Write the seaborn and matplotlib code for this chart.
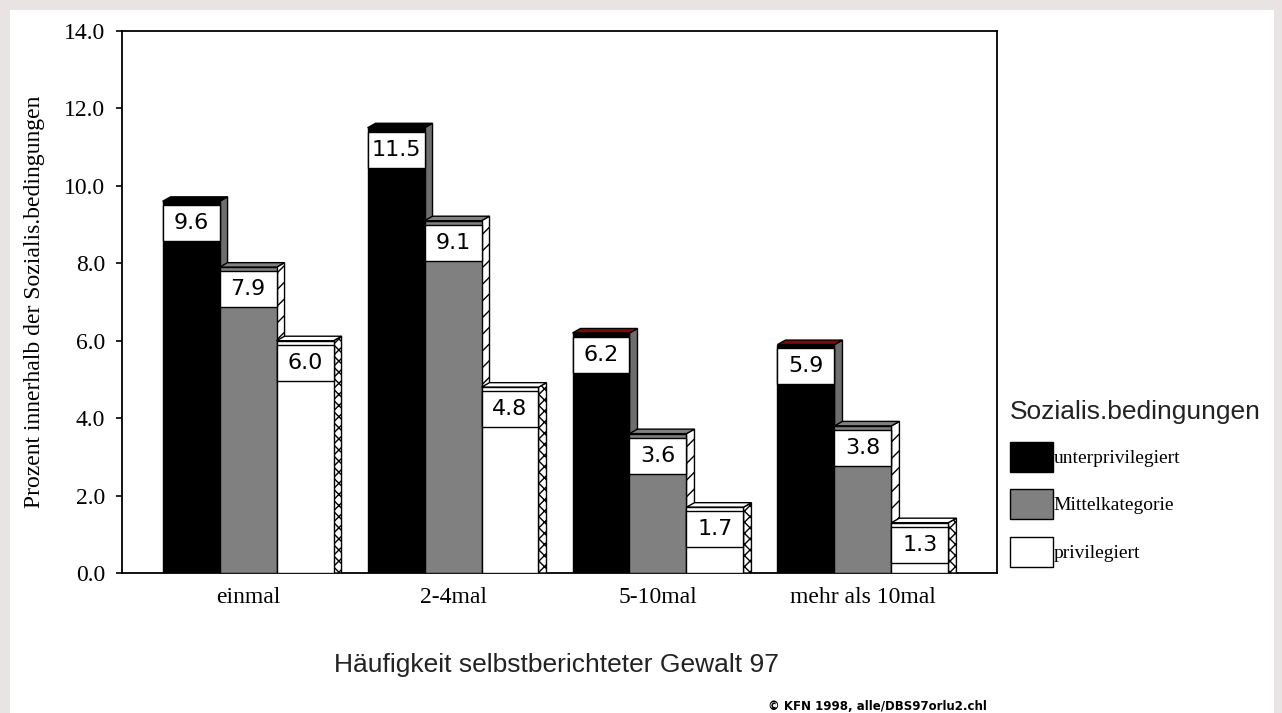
import numpy as np
import pandas as pd
import seaborn as sns
import matplotlib.pyplot as plt
from matplotlib.patches import Polygon, Rectangle

# data
kategorien = ['einmal', '2-4mal', '5-10mal', 'mehr als 10mal']
gruppen = ['unterprivilegiert', 'Mittelkategorie', 'privilegiert']
unterprivilegiert = [9.6, 11.5, 6.2, 5.9]
mittelkategorie = [7.9, 9.1, 3.6, 3.8]
privilegiert = [6.0, 4.8, 1.7, 1.3]
y_ticks = [0, 2, 4, 6, 8, 10, 12, 14]

df = pd.DataFrame({
    'Haeufigkeit': kategorien * 3,
    'Gruppe': [g for g in gruppen for _ in kategorien],
    'Prozent': unterprivilegiert + mittelkategorie + privilegiert,
})

W, H = 1282, 713
fig = plt.figure(figsize=(W / 100, H / 100), dpi=100)
fig.patch.set_facecolor('#e8e4e4')
fig.patches.append(Rectangle((10 / W, 0), 1264 / W, 703 / H, transform=fig.transFigure,
                             facecolor='white', edgecolor='none', zorder=-1))

ax = fig.add_axes([122 / W, (H - 573) / H, 875 / W, 542 / H])
sns.barplot(data=df, x='Haeufigkeit', y='Prozent', hue='Gruppe', hue_order=gruppen,
            palette=['black', '#808080', 'white'], edgecolor='black', linewidth=1,
            width=0.834, errorbar=None, ax=ax)
if ax.get_legend() is not None:
    ax.get_legend().remove()

ax.set_xlim(-0.615, 3.654)
ax.set_ylim(0, 14)

# fake 3D depth (about 8 px right, 4.5 px up)
dx = 8 / 205
dy = 4.5 / 38.71
side_style = [
    dict(facecolor='#6e6e6e', hatch=None),
    dict(facecolor='white', hatch='//'),
    dict(facecolor='white', hatch='xxx'),
]
top_colors = ['black', '#808080', 'white']
red_top = {'5-10mal', 'mehr als 10mal'}

plt.rcParams['hatch.linewidth'] = 1.0

for k, cont in enumerate(ax.containers):
    for i, p in enumerate(cont.patches):
        x0, w, h = p.get_x(), p.get_width(), p.get_height()
        p.set_zorder(2.5 + k)
        side = Polygon([(x0 + w, 0), (x0 + w + dx, 0), (x0 + w + dx, h + dy), (x0 + w, h)],
                       closed=True, edgecolor='black', linewidth=1, zorder=2 + k, **side_style[k])
        ax.add_patch(side)
        tc = top_colors[k]
        if k == 0 and kategorien[i] in red_top:
            tc = '#7a0a0a'
        top = Polygon([(x0, h), (x0 + dx, h + dy), (x0 + w + dx, h + dy), (x0 + w, h)],
                      closed=True, facecolor=tc, edgecolor='black', linewidth=1, zorder=2 + k)
        ax.add_patch(top)
        # value box
        bh = 0.93
        btop = h - 0.1
        ax.add_patch(Rectangle((x0, btop - bh), w, bh, facecolor='white', edgecolor='black',
                               linewidth=1, zorder=10))
        ax.text(x0 + w / 2, btop - bh / 2, f'{h:.1f}', ha='center', va='center',
                fontsize=16, family='DejaVu Sans', color='black', zorder=11)

# axes styling
for s in ax.spines.values():
    s.set_color('black')
    s.set_linewidth(1.3)
ax.set_yticks(y_ticks)
ax.set_yticklabels([f'{v:.1f}' for v in y_ticks], family='Liberation Serif', fontsize=17)
ax.set_xticks(range(len(kategorien)))
ax.set_xticklabels(kategorien, family='Liberation Serif', fontsize=17)
ax.tick_params(axis='y', direction='out', length=4, width=1.2, pad=8)
ax.tick_params(axis='x', length=0, pad=10)

ax.set_ylabel('Prozent innerhalb der Sozialis.bedingungen', family='Liberation Serif', fontsize=17)
ax.yaxis.set_label_coords(-0.088, 0.5)
ax.set_xlabel('Häufigkeit selbstberichteter Gewalt 97', family='Liberation Sans', fontsize=19,
              color='#222222')
ax.xaxis.set_label_coords(0.497, -0.148)

# legend
handles = [c.patches[0] for c in ax.containers]
leg = ax.legend(handles, gruppen, title='Sozialis.bedingungen', loc='upper left',
                bbox_to_anchor=(1010 / W, 1 - 400 / H), bbox_transform=fig.transFigure,
                frameon=False, prop={'family': 'Liberation Serif', 'size': 14},
                title_fontproperties={'family': 'Liberation Sans', 'size': 19},
                handlelength=2.2, handleheight=2.0, handletextpad=0.05,
                labelspacing=0.9, borderpad=0, borderaxespad=0, alignment='left')
leg.get_title().set_color('#222222')

fig.text(768 / W, 1 - 710 / H, '© KFN 1998, alle/DBS97orlu2.chl', fontsize=8.5,
         fontweight='bold', family='DejaVu Sans', va='baseline', ha='left')

fig.savefig('out.png', dpi=100, facecolor=fig.get_facecolor())
